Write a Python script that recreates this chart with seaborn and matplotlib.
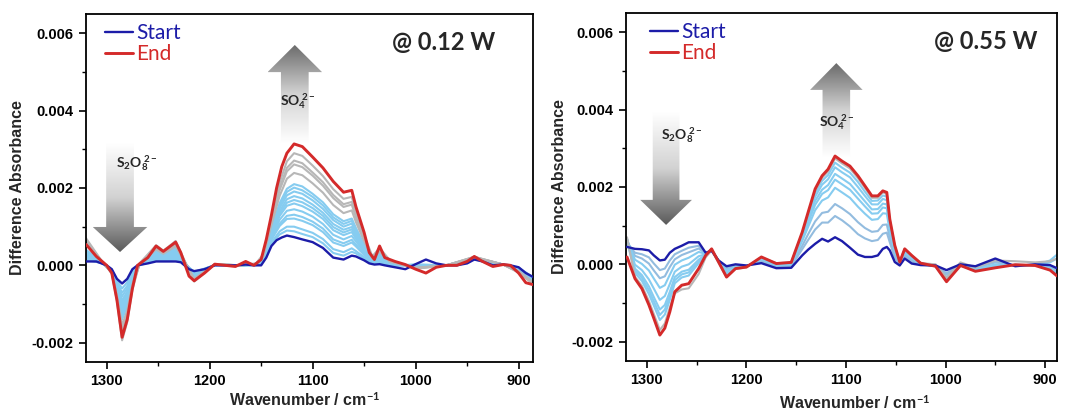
import numpy as np
import pandas as pd
import matplotlib
matplotlib.use("Agg")
import matplotlib.pyplot as plt
import seaborn as sns
from matplotlib.patches import Polygon
from matplotlib.colors import LinearSegmentedColormap
from matplotlib.ticker import MultipleLocator, FormatStrFormatter

# ---------------------------------------------------------------- data
# absorbance values are given in units of 1e-4
SCALE = 1e-4

# ---- 0.12 W
wn_012 = [1320, 1310, 1300, 1295, 1290, 1285, 1280, 1275, 1270, 1260, 1252, 1245, 1240, 1233, 1228,
          1220, 1215, 1205, 1195, 1185, 1175, 1165, 1157, 1150, 1145, 1140, 1135, 1130, 1125, 1118,
          1110, 1100, 1090, 1080, 1070, 1062, 1058, 1050, 1045, 1040, 1035, 1030, 1020, 1010, 1000,
          990, 980, 970, 960, 950, 943, 935, 925, 915, 908, 900, 893, 886]
start_012 = [1, 1, 0, -1, -3.5, -4.7, -3.5, -1, 0, 0.5, 1, 1, 1, 1, 0.8,
             -1, -1.5, -1, 0, 0, 0, 0.2, 0, 0, 2, 5, 6.5, 7.2, 7.7, 7.3,
             6.7, 6, 4.5, 2, 1.5, 2.5, 2.3, 1.3, 0.5, 0.2, 0.3, 0, -0.5, -1, 0.3,
             1.5, 0.5, 0, 0, 0.5, 1.5, 1, 0, 0.2, 0, -0.5, -2, -3]
end_012 = [5.4, 2.3, 0, -2, -9, -18.6, -14, -6, 0, 2, 5, 3.6, 4.6, 6, 3.3,
           -2.8, -4, -2, 0.3, 0, -0.3, 1, 0, 1.5, 6.7, 13, 20, 25.5, 29, 31.4,
           30.7, 28, 25.2, 21.7, 18.9, 19.4, 15.2, 8.5, 3.3, 1.5, 5, 2, 1, 0.2, -1,
           -2, -0.5, 0, 0, 1, 2.3, 1, -0.3, 0.2, 0, -2, -4.5, -5]

wn_mid_012 = [1320, 1305, 1295, 1290, 1285, 1280, 1275, 1268, 1252, 1245, 1240, 1233, 1225, 1215,
              1195, 1170, 1155, 1148, 1140, 1132, 1125, 1118, 1110, 1100, 1090, 1080, 1070, 1062,
              1058, 1050, 1042, 1035, 1025, 1000, 970, 943, 915, 900, 886]
blue_012 = {
    "b01": [1.4, 0.6, -1.1, -4.0, -6.0, -4.4, -1.5, 0.0, 1.4, 1.2, 1.3, 1.5, 0.6, -1.7, 0.0, 0.0, 0.0, 0.9, 5.5, 8.0, 9.0, 8.8, 8.1, 7.3, 5.7, 3.2, 2.5, 3.5, 3.1, 1.7, 0.4, 0.6, -0.2, 0.2, 0.0, 1.5, 0.2, -0.6, -3.1],
    "b02": [1.7, 0.6, -1.2, -4.4, -7.1, -5.3, -1.9, 0.1, 1.7, 1.4, 1.6, 1.9, 0.7, -1.9, 0.1, 0.0, 0.1, 1.0, 5.9, 8.8, 10.0, 10.0, 9.3, 8.4, 6.8, 4.2, 3.4, 4.4, 3.7, 2.1, 0.5, 0.8, -0.1, 0.2, 0.0, 1.6, 0.2, -0.7, -3.2],
    "b03": [2.1, 0.7, -1.2, -4.8, -8.0, -6.0, -2.2, 0.1, 2.0, 1.6, 1.9, 2.2, 0.7, -2.1, 0.1, 0.0, 0.1, 1.2, 6.6, 10.2, 12.0, 12.1, 11.5, 10.4, 8.6, 5.9, 5.0, 5.9, 4.9, 2.7, 0.7, 1.2, 0.1, 0.0, 0.0, 1.7, 0.2, -0.8, -3.4],
    "b04": [2.4, 0.7, -1.3, -5.2, -9.0, -6.8, -2.6, 0.2, 2.2, 1.8, 2.1, 2.6, 0.8, -2.3, 0.1, 0.0, 0.1, 1.3, 6.9, 10.8, 12.8, 13.1, 12.5, 11.3, 9.5, 6.7, 5.7, 6.6, 5.4, 3.0, 0.8, 1.4, 0.1, 0.0, 0.0, 1.7, 0.2, -0.9, -3.5],
    "b05": [2.5, 0.7, -1.4, -5.4, -9.6, -7.2, -2.8, 0.2, 2.4, 1.9, 2.3, 2.8, 0.9, -2.4, 0.1, 0.0, 0.2, 1.5, 7.4, 11.8, 14.1, 14.5, 13.9, 12.6, 10.7, 7.9, 6.7, 7.6, 6.2, 3.5, 1.0, 1.7, 0.2, -0.1, 0.0, 1.7, 0.2, -1.0, -3.6],
    "b06": [2.9, 0.8, -1.4, -5.8, -10.5, -7.9, -3.1, 0.2, 2.7, 2.1, 2.5, 3.1, 0.9, -2.6, 0.1, 0.0, 0.2, 1.6, 7.9, 12.8, 15.4, 16.0, 15.3, 13.9, 12.0, 9.1, 7.8, 8.6, 6.9, 3.9, 1.1, 2.0, 0.3, -0.2, 0.0, 1.8, 0.2, -1.0, -3.7],
    "b07": [3.0, 0.8, -1.5, -6.0, -11.1, -8.3, -3.3, 0.2, 2.8, 2.2, 2.7, 3.3, 1.0, -2.7, 0.1, 0.0, 0.2, 1.7, 8.2, 13.4, 16.2, 16.9, 16.3, 14.8, 12.8, 9.9, 8.5, 9.3, 7.5, 4.2, 1.2, 2.2, 0.4, -0.2, 0.0, 1.8, 0.2, -1.1, -3.8],
    "b08": [3.3, 0.9, -1.5, -6.4, -11.9, -9.0, -3.6, 0.3, 3.1, 2.4, 2.9, 3.6, 1.0, -2.8, 0.2, 0.0, 0.2, 1.8, 8.5, 14.0, 17.1, 17.9, 17.3, 15.7, 13.6, 10.7, 9.2, 9.9, 8.0, 4.5, 1.3, 2.4, 0.5, -0.3, 0.0, 1.9, 0.2, -1.2, -3.9],
    "b09": [3.5, 0.9, -1.6, -6.6, -12.5, -9.4, -3.8, 0.3, 3.2, 2.5, 3.0, 3.8, 1.1, -2.9, 0.2, 0.0, 0.2, 1.9, 8.9, 14.8, 18.1, 19.1, 18.5, 16.8, 14.6, 11.7, 10.0, 10.8, 8.6, 4.8, 1.4, 2.6, 0.6, -0.3, 0.0, 1.9, 0.2, -1.2, -4.0],
    "b10": [3.8, 0.9, -1.6, -7.0, -13.5, -10.1, -4.2, 0.3, 3.5, 2.6, 3.3, 4.2, 1.1, -3.1, 0.2, 0.0, 0.3, 2.0, 9.2, 15.5, 19.0, 20.1, 19.4, 17.7, 15.5, 12.4, 10.7, 11.5, 9.1, 5.1, 1.5, 2.8, 0.7, -0.4, 0.0, 1.9, 0.2, -1.3, -4.1],
    "b11": [4.0, 1.0, -1.7, -7.2, -14.0, -10.5, -4.4, 0.3, 3.7, 2.7, 3.4, 4.4, 1.2, -3.2, 0.2, 0.0, 0.3, 2.1, 9.6, 16.1, 19.8, 21.0, 20.4, 18.5, 16.3, 13.2, 11.4, 12.1, 9.7, 5.4, 1.6, 3.0, 0.7, -0.4, 0.0, 2.0, 0.2, -1.4, -4.1],
}
grey_012 = {
    "g01": [5.5, 1.0, -1.8, -7.8, -15.5, -11.7, -4.9, 0.4, 4.1, 3.0, 3.8, 4.9, 1.3, -3.5, 0.2, 0.0, 0.3, 2.3, 10.5, 18.0, 22.4, 23.9, 23.3, 21.2, 18.8, 15.6, 13.5, 14.2, 11.2, 6.3, 1.8, 3.5, 0.9, -0.6, 0.0, 2.1, 0.2, -1.5, -4.4],
    "g02": [6.0, 1.1, -1.9, -8.2, -16.5, -12.4, -5.3, 0.4, 4.4, 3.2, 4.1, 5.3, 1.4, -3.6, 0.3, 0.0, 0.4, 2.5, 11.2, 19.5, 24.3, 26.1, 25.4, 23.2, 20.6, 17.4, 15.1, 15.7, 12.4, 6.9, 2.0, 4.0, 1.1, -0.7, 0.0, 2.1, 0.2, -1.7, -4.6],
    "g03": [6.5, 1.1, -1.9, -8.6, -17.5, -13.2, -5.6, 0.5, 4.7, 3.4, 4.3, 5.6, 1.4, -3.8, 0.3, 0.0, 0.4, 2.6, 11.6, 20.1, 25.2, 27.1, 26.4, 24.0, 21.5, 18.2, 15.8, 16.4, 12.9, 7.2, 2.1, 4.2, 1.2, -0.8, 0.0, 2.2, 0.2, -1.7, -4.7],
    "g04": [7.0, 1.2, -2.1, -9.3, -19.4, -14.6, -6.3, 0.5, 5.2, 3.8, 4.8, 6.3, 1.6, -4.2, 0.3, 0.0, 0.5, 2.8, 12.2, 21.4, 26.9, 29.0, 28.3, 25.8, 23.1, 19.7, 17.2, 17.7, 13.9, 7.8, 2.3, 4.5, 1.3, -0.9, 0.0, 2.2, 0.2, -1.9, -4.8],
}

# ---- 0.55 W
wn_055 = [1320, 1312, 1305, 1298, 1293, 1287, 1282, 1277, 1272, 1265, 1258, 1248, 1241, 1235, 1228,
          1220, 1211, 1200, 1185, 1170, 1155, 1144, 1138, 1131, 1124, 1118, 1111, 1104, 1096, 1088,
          1081, 1074, 1068, 1063, 1059, 1056, 1051, 1046, 1041, 1034, 1025, 1010, 999, 985, 970,
          950, 930, 910, 895, 888]
start_055 = [4.5, 4.0, 3.9, 3.6, 2.3, 1.0, 1.2, 3.0, 4.0, 4.8, 5.7, 5.7, 3.0, 3.5, 1.0,
             -0.5, 0.0, -0.3, 0.3, -1.0, -0.9, 2.3, 3.8, 5.3, 6.6, 5.9, 7.0, 6.0, 4.3, 2.5,
             1.9, 1.9, 2.3, 4.0, 4.5, 3.6, 0.6, -0.3, 1.5, 0.2, -0.2, -0.3, -1.5, 0.0, -0.5,
             1.5, -0.5, 0.0, -0.2, -1.0]
end_055 = [1.9, -3.7, -6.3, -10.5, -14.0, -18.3, -16.5, -12.3, -7.1, -5.4, -5.0, -1.1, 2.3, 4.0, 0.6,
           -3.3, -1.1, -0.7, 1.9, 0.2, 0.5, 8.3, 13.5, 19.5, 22.9, 24.6, 28.0, 26.7, 25.4, 22.9,
           20.3, 17.7, 17.7, 19.0, 18.6, 11.7, 4.9, 0.6, 4.0, 2.3, 0.3, -0.5, -4.5, -0.3, -1.8,
           -0.9, -0.1, -0.3, -1.5, -3.0]
steel_055 = {
    "r01": [5.5, 3.0, 2.6, 1.8, 0.2, -1.5, -1.1, 1.0, 2.6, 3.5, 4.3, 4.8, 2.9, 3.6, 1.0, -0.9, -0.3, -0.4, 0.7, -0.7, -0.5, 3.9, 6.3, 9.0, 10.8, 10.8, 12.5, 11.4, 9.8, 7.8, 6.7, 6.0, 6.3, 7.9, 8.2, 5.7, 1.7, 0.0, 2.2, 0.7, -0.1, -0.4, -2.3, -0.1, -0.8, 0.9, -0.4, -0.1, -0.5, -1.5],
    "r02": [6.0, 2.2, 1.5, 0.2, -1.6, -3.6, -3.1, -0.7, 1.3, 2.4, 3.1, 4.1, 2.8, 3.6, 0.9, -1.2, -0.5, -0.5, 1.0, -0.5, -0.3, 4.8, 7.8, 11.1, 13.3, 13.6, 15.6, 14.5, 13.0, 10.9, 9.4, 8.4, 8.6, 10.2, 10.3, 6.9, 2.4, 0.1, 2.5, 1.1, 0.0, -0.4, -2.7, -0.1, -1.0, 0.5, -0.3, -0.1, -0.7, -1.8],
}
blue_055 = {
    "r03": [6.3, 1.2, 0.1, -1.6, -3.7, -6.1, -5.4, -2.7, -0.1, 1.0, 1.7, 3.2, 2.7, 3.7, 0.9, -1.5, -0.7, -0.5, 1.3, -0.3, 0.0, 6.0, 9.7, 14.0, 16.5, 17.3, 19.8, 18.6, 17.2, 14.9, 13.1, 11.5, 11.7, 13.2, 13.1, 8.5, 3.2, 0.3, 3.0, 1.5, 0.1, -0.4, -3.3, -0.2, -1.3, 0.0, -0.3, -0.2, -1.0, -2.2],
    "r04": [6.5, -0.1, -1.5, -3.9, -6.3, -9.2, -8.2, -5.1, -1.9, -0.6, 0.0, 2.1, 2.6, 3.8, 0.8, -2.0, -0.8, -0.6, 1.4, -0.1, 0.1, 6.6, 10.7, 15.4, 18.2, 19.2, 21.9, 20.7, 19.3, 17.0, 15.0, 13.1, 13.2, 14.7, 14.5, 9.4, 3.7, 0.3, 3.3, 1.7, 0.2, -0.4, -3.6, -0.2, -1.4, -0.2, -0.2, -0.2, -1.1, -2.4],
    "r05": [6.6, -1.1, -2.8, -5.7, -8.5, -11.7, -10.5, -7.1, -3.3, -1.9, -1.4, 1.2, 2.5, 3.8, 0.7, -2.4, -0.9, -0.6, 1.5, -0.1, 0.2, 7.0, 11.4, 16.4, 19.3, 20.5, 23.4, 22.2, 20.8, 18.4, 16.3, 14.2, 14.3, 15.7, 15.5, 9.9, 4.0, 0.4, 3.5, 1.8, 0.2, -0.5, -3.8, -0.2, -1.5, -0.4, -0.2, -0.2, -1.2, -2.6],
    "r06": [6.4, -1.6, -3.5, -6.7, -9.6, -13.1, -11.7, -8.2, -4.1, -2.6, -2.1, 0.7, 2.5, 3.9, 0.7, -2.5, -0.9, -0.6, 1.7, 0.0, 0.3, 7.5, 12.1, 17.5, 20.6, 22.0, 25.1, 23.8, 22.5, 20.0, 17.7, 15.5, 15.5, 16.9, 16.6, 10.6, 4.3, 0.5, 3.7, 2.0, 0.2, -0.5, -4.1, -0.3, -1.6, -0.6, -0.2, -0.3, 0.5, 1.5],
    "r07": [6.0, -2.2, -4.3, -7.7, -10.7, -14.4, -13.0, -9.2, -4.9, -3.4, -2.9, 0.3, 2.4, 3.9, 0.7, -2.7, -1.0, -0.7, 1.8, 0.1, 0.4, 7.8, 12.7, 18.4, 21.6, 23.1, 26.3, 25.0, 23.7, 21.3, 18.8, 16.4, 16.5, 17.8, 17.5, 11.1, 4.6, 0.5, 3.8, 2.1, 0.3, -0.5, -4.3, -0.3, -1.7, -0.7, -0.1, -0.3, 1.0, 2.5],
}
grey_055 = {
    "rg1": [7.0, -3.2, -5.6, -9.5, -12.9, -17.0, -15.3, -11.2, -7.5, -6.5, -6.2, -2.5, 1.8, 3.6, 0.4, -3.3, -1.2, -0.8, 1.8, 0.3, 0.5, 8.1, 13.2, 19.1, 22.4, 24.0, 27.4, 26.1, 24.8, 22.3, 19.8, 17.2, 17.2, 18.6, 18.2, 11.5, 4.8, 0.7, 4.0, 2.3, 0.3, 0.0, -3.5, 0.5, -0.8, 1.0, 0.8, 0.5, 0.8, 1.5],
}

power_labels = ["@ 0.12 W", "@ 0.55 W"]
legend_labels = ["Start", "End"]

# ---------------------------------------------------------------- style
C_START = "#1c1ca8"
C_END = "#d42a2a"
C_LIGHT = "#86ccf0"
C_STEEL = "#93bcdf"
C_GREY = "#b7b7b7"

sns.set_theme(style="ticks")
plt.rcParams.update({
    "font.family": ["Liberation Sans", "DejaVu Sans"],
    "axes.edgecolor": "black",
    "axes.linewidth": 1.3,
    "xtick.color": "black",
    "ytick.color": "black",
    "xtick.major.width": 1.2,
    "ytick.major.width": 1.2,
    "xtick.minor.width": 1.0,
    "ytick.minor.width": 1.0,
    "xtick.major.size": 5,
    "ytick.major.size": 5,
    "xtick.minor.size": 3,
    "ytick.minor.size": 3,
    "axes.unicode_minus": False,
    "mathtext.fontset": "custom",
    "mathtext.rm": "Lato",
    "mathtext.bf": "Lato:bold",
    "mathtext.it": "Lato:italic",
})


def long_form(wn, curves):
    frames = [pd.DataFrame({"wavenumber": wn,
                            "absorbance": np.asarray(v, dtype=float) * SCALE,
                            "scan": name})
              for name, v in curves.items()]
    return pd.concat(frames, ignore_index=True)


def gradient_arrow(ax, xm, shaft_half, head_half, y_tail, y_base, y_tip, dark):
    verts = [(xm - shaft_half, y_tail), (xm + shaft_half, y_tail), (xm + shaft_half, y_base),
             (xm + head_half, y_base), (xm, y_tip), (xm - head_half, y_base),
             (xm - shaft_half, y_base)]
    poly = Polygon(verts, closed=True, transform=ax.transAxes,
                   facecolor="none", edgecolor="none")
    ax.add_patch(poly)
    ramp = np.linspace(0, 1, 256).reshape(-1, 1)
    if y_tip < y_tail:
        ramp = ramp[::-1]
    cmap = LinearSegmentedColormap.from_list("fade", ["#ffffff", "#d2d2d2", dark])
    im = ax.imshow(ramp, cmap=cmap, origin="lower", aspect="auto",
                   extent=[xm - head_half, xm + head_half, min(y_tail, y_tip), max(y_tail, y_tip)],
                   transform=ax.transAxes, interpolation="bilinear", zorder=1)
    im.set_clip_path(poly)


def draw_panel(ax, wn, start, end, wn_mid, groups, power, arrows, ion_pos, power_x, leg_xy, xlim,
               xlabel_xy, ylabel_x):
    for curves, color in groups:
        df = long_form(wn_mid, curves)
        sns.lineplot(data=df, x="wavenumber", y="absorbance", hue="scan",
                     palette={k: color for k in curves}, estimator=None, sort=False,
                     legend=False, lw=1.5, ax=ax, zorder=2)
    sns.lineplot(x=wn, y=np.asarray(start) * SCALE, color=C_START, lw=1.7,
                 estimator=None, sort=False, label=legend_labels[0], ax=ax, zorder=3)
    sns.lineplot(x=wn, y=np.asarray(end) * SCALE, color=C_END, lw=2.1,
                 estimator=None, sort=False, label=legend_labels[1], ax=ax, zorder=4)

    # fading arrows that mark the consumed and formed species
    for a in arrows:
        gradient_arrow(ax, *a)
    (sx, sy), (ox, oy) = ion_pos
    ax.text(sx, sy, r"$\mathbf{S_2O_8^{\ 2-}}$", transform=ax.transAxes, fontsize=10,
            ha="center", va="center", zorder=5)
    ax.text(ox, oy, r"$\mathbf{SO_4^{\ 2-}}$", transform=ax.transAxes, fontsize=10,
            ha="center", va="center", zorder=5)

    ax.text(power_x, 0.917, power, transform=ax.transAxes, family="Lato",
            fontweight="bold", fontsize=17, ha="center", va="center")

    ax.legend(loc="upper left", bbox_to_anchor=leg_xy, frameon=False,
              handlelength=1.35, handletextpad=0.15, labelspacing=0.05,
              borderpad=0, borderaxespad=0, prop={"family": "Lato", "size": 15},
              labelcolor=[C_START, C_END])

    ax.set_xlim(*xlim)
    ax.set_ylim(-0.0025, 0.0065)
    ax.xaxis.set_major_locator(MultipleLocator(100))
    ax.xaxis.set_minor_locator(MultipleLocator(50))
    ax.yaxis.set_major_locator(MultipleLocator(0.002))
    ax.yaxis.set_minor_locator(MultipleLocator(0.001))
    ax.yaxis.set_major_formatter(FormatStrFormatter("%.3f"))
    ax.tick_params(which="both", top=False, right=False, direction="out")
    ax.tick_params(which="major", labelsize=10.5, pad=4)
    for lab in ax.get_xticklabels() + ax.get_yticklabels():
        lab.set_fontweight("bold")

    ax.set_xlabel(r"Wavenumber / cm$^{\mathbf{-1}}$", fontsize=11.5, fontweight="bold")
    ax.set_ylabel("Difference Absorbance", fontsize=11.5, fontweight="bold")
    ax.xaxis.set_label_coords(*xlabel_xy)
    ax.yaxis.set_label_coords(ylabel_x, 0.5)
    for side in ("top", "right", "left", "bottom"):
        ax.spines[side].set_visible(True)


fig = plt.figure(figsize=(10.65, 4.18), dpi=100)
ax1 = fig.add_axes([0.0808, 0.134, 0.4197, 0.8325])
ax2 = fig.add_axes([0.5878, 0.1364, 0.4047, 0.8325])

draw_panel(
    ax1, wn_012, start_012, end_012, wn_mid_012,
    [(blue_012, C_LIGHT), (grey_012, C_GREY)],
    power_labels[0],
    arrows=[(0.076, 0.031, 0.061, 0.629, 0.388, 0.316, "#5a5a5a"),
            (0.467, 0.031, 0.061, 0.629, 0.833, 0.911, "#6a6a6a")],
    ion_pos=[(0.114, 0.572), (0.474, 0.75)],
    power_x=0.80, leg_xy=(0.0425, 0.974), xlim=(1320, 886),
    xlabel_xy=(0.489, -0.083), ylabel_x=-0.137,
)
draw_panel(
    ax2, wn_055, start_055, end_055, wn_055,
    [(steel_055, C_STEEL), (blue_055, C_LIGHT), (grey_055, C_GREY)],
    power_labels[1],
    arrows=[(0.093, 0.031, 0.060, 0.713, 0.463, 0.391, "#5a5a5a"),
            (0.488, 0.032, 0.061, 0.586, 0.779, 0.856, "#6a6a6a")],
    ion_pos=[(0.13, 0.649), (0.49, 0.687)],
    power_x=0.835, leg_xy=(0.0557, 0.974), xlim=(1321, 888),
    xlabel_xy=(0.531, -0.095), ylabel_x=-0.137,
)

fig.savefig("out.png", dpi=100, facecolor="white")
